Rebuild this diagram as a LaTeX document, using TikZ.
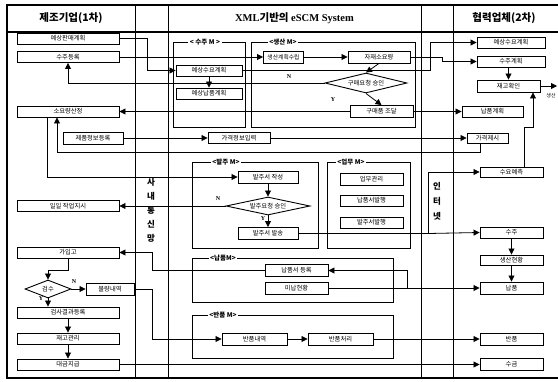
\documentclass[tikz,border=0pt]{standalone}
\usepackage{fontspec}
\setmainfont{Liberation Serif}
\newfontfamily\kr{Noto Sans CJK KR}
\usetikzlibrary{arrows.meta,shapes.geometric}
\tikzset{
 bx/.style={draw, line width=0.9pt, fill=white, inner sep=0pt, font=\kr\fontsize{6.3}{7}\selectfont},
 dia/.style={diamond, draw, line width=0.9pt, fill=white, inner sep=0pt, aspect=4, font=\kr\fontsize{6.3}{7}\selectfont},
 arr/.style={line width=0.8pt, -{Triangle[length=6pt,width=6pt]}},
 grp/.style={line width=0.8pt},
 gtitle/.style={fill=white, inner sep=1.5pt, font=\kr\bfseries\fontsize{6.5}{7}\selectfont},
 hdr/.style={font=\bfseries\fontsize{10.5}{12}\selectfont},
 lbl/.style={font=\bfseries\fontsize{6}{7}\selectfont, inner sep=0pt},
 vtxt/.style={align=center, inner sep=0pt},
}
\begin{document}
\begin{tikzpicture}[x=1pt,y=-1pt]
\useasboundingbox (0,0) rectangle (558,381);
% frame
\draw[line width=1.3pt] (558,5) -- (7,5) -- (7,378) -- (558,378);
\draw[line width=1.1pt] (7,32) -- (558,32);
\foreach \x in {135,168,421,453} \draw[line width=1pt] (\x,5) -- (\x,378);
% headers
\node[hdr] (h1) at (71,18.5) {\kr\bfseries 제조기업(1차)};
\node[hdr] (h2) at (294.5,18.5) {XML{\kr\bfseries 기반의} eSCM System};
\node[hdr] (h3) at (504,18.5) {\kr\bfseries 협력업체(2차)};
% side texts
\node[vtxt, font=\kr\bfseries\fontsize{8.5}{14}\selectfont] (t1) at (151,210) {사\\내\\통\\신\\망};
\node[vtxt, font=\kr\bfseries\fontsize{8.5}{15}\selectfont] (t2) at (437,201) {인\\터\\넷};
% groups
\draw[grp] (173,42) rectangle (245,127);
\draw[grp] (251,42) rectangle (415,127);
\draw[grp] (192,162) rectangle (318,248);
\draw[grp] (327,162) rectangle (410,248);
\draw[grp] (192,258) rectangle (393,302);
\draw[grp] (192,315) rectangle (393,358);
\node[gtitle] (g1) at (205,42) {< 수주 M >};
\node[gtitle] (g2) at (283,42) {<생산 M>};
\node[gtitle] (g3) at (226,162) {<발주 M>};
\node[gtitle] (g4) at (351,162) {<업무 M>};
\node[gtitle] (g5) at (223,258) {<납품M>};
\node[gtitle] (g6) at (223,315) {<반품 M>};
% left column
\node[bx, minimum width=102pt, minimum height=11pt] (L1) at (68,38.5) {예상판매계획};
\node[bx, minimum width=102pt, minimum height=11pt] (L2) at (68,57) {수주등록};
\node[bx, minimum width=102pt, minimum height=11pt] (L3) at (68,111.5) {소요량산정};
\node[bx, minimum width=60pt, minimum height=12pt] (L4) at (93,138) {제품정보등록};
\node[bx, minimum width=102pt, minimum height=11pt] (L5) at (68,206) {일일 작업지시};
\node[bx, minimum width=102pt, minimum height=11pt] (L6) at (68,252.5) {가입고};
\node[dia, minimum width=46pt, minimum height=18pt] (Ld) at (48,289) {검수};
\node[bx, minimum width=48pt, minimum height=12pt] (L7) at (110,289) {불량내역};
\node[bx, minimum width=102pt, minimum height=11pt] (L8) at (68,312.5) {검사결과등록};
\node[bx, minimum width=102pt, minimum height=11pt] (L9) at (68,338.5) {재고관리};
\node[bx, minimum width=102pt, minimum height=11pt] (L10) at (68,364.5) {대금지급};
% middle
\node[bx, minimum width=66pt, minimum height=11pt] (M1) at (209,70.5) {예상수요계획};
\node[bx, minimum width=66pt, minimum height=11pt] (M2) at (209,93.5) {예상납품계획};
\node[bx, minimum width=40pt, minimum height=12pt, font=\kr\fontsize{5.8}{7}\selectfont] (M3) at (283.5,57) {생산계획수립};
\node[bx, minimum width=62pt, minimum height=12pt] (M4) at (379,57) {자재소요량};
\node[dia, minimum width=82pt, minimum height=20pt] (M5) at (366,83) {구매요청 승인};
\node[bx, minimum width=63pt, minimum height=12pt] (M6) at (381.5,111.5) {구매품 조달};
\node[bx, minimum width=62pt, minimum height=11pt] (M7) at (239,138) {가격정보입력};
\node[bx, minimum width=60pt, minimum height=12pt] (M8) at (268,177) {발주서 작성};
\node[dia, minimum width=84pt, minimum height=18pt] (M9) at (268,206) {발주요청 승인};
\node[bx, minimum width=60pt, minimum height=12pt] (M10) at (268,233.5) {발주서 발송};
\node[bx, minimum width=63pt, minimum height=12pt] (M11) at (371.5,179.5) {업무관리};
\node[bx, minimum width=63pt, minimum height=11pt] (M12) at (371.5,200.5) {납품서발행};
\node[bx, minimum width=63pt, minimum height=11pt] (M13) at (371.5,222.5) {발주서발행};
\node[bx, minimum width=63pt, minimum height=12pt] (M14) at (296.5,270.5) {납품서 등록};
\node[bx, minimum width=63pt, minimum height=12pt] (M15) at (296.5,288) {미납현황};
\node[bx, minimum width=65pt, minimum height=12pt] (M16) at (254.5,339) {반품내역};
\node[bx, minimum width=65pt, minimum height=12pt] (M17) at (340.5,339) {반품처리};
% right
\node[bx, minimum width=68pt, minimum height=11pt] (R1) at (511,42.5) {예상수요계획};
\node[bx, minimum width=68pt, minimum height=11pt] (R2) at (511,61.5) {수주계획};
\node[bx, minimum width=63pt, minimum height=12pt] (R3) at (508.5,86) {재고확인};
\node[bx, minimum width=61pt, minimum height=11pt] (R4) at (492.5,111.5) {납품계획};
\node[bx, minimum width=41pt, minimum height=10pt] (R5) at (487.5,138) {가격제시};
\node[bx, minimum width=63pt, minimum height=10pt] (R6) at (511.5,172) {수요예측};
\node[bx, minimum width=63pt, minimum height=11pt] (R7) at (511.5,232.5) {수주};
\node[bx, minimum width=63pt, minimum height=10pt] (R8) at (511.5,260) {생산현황};
\node[bx, minimum width=63pt, minimum height=12pt] (R9) at (511.5,288) {납품};
\node[bx, minimum width=63pt, minimum height=12pt] (R10) at (511.5,339) {반품};
\node[bx, minimum width=63pt, minimum height=12pt] (R11) at (511.5,364.5) {수금};
\node[font=\kr\fontsize{5}{6}\selectfont, inner sep=0pt] (t3) at (551,96) {생산};
% labels
\node[lbl] (n1) at (289,77) {N};
\node[lbl] (y1) at (333,100) {Y};
\node[lbl] (n2) at (218,199) {N};
\node[lbl] (y2) at (263,219) {Y};
\node[lbl] (n3) at (74,282) {N};
\node[lbl] (y3) at (41,299) {Y};
% coordinates
\coordinate (k0) at (147,38.5);
\coordinate (ka) at (430,70.5);
\coordinate (kb) at (442,57);
\coordinate (e1) at (557,86);
\coordinate (k1) at (480,152);
\coordinate (k2) at (57,152);
\coordinate (k3) at (47,177);
\coordinate (k4) at (428,233.5);
\coordinate (k5) at (524,127);
\coordinate (k6) at (533,127);
\coordinate (k7) at (407,288);
\coordinate (k8) at (152,270.5);
\coordinate (k9) at (48,270);
\coordinate (k10) at (152,289);
% connectors
\draw[arr] (L1.east) -- (k0) |- (M1.west);
\draw[arr] (L2.east) -- (M3.west);
\draw[arr] (M3.east) -- (M4.west);
\draw[arr] (M4.south) -- (M5.north);
\draw[arr] (M5.south) -- (M6.north);
\draw[arr] (M5.west) -| (L2.south);
\draw[arr] (M1.south) -- (M2.north);
\draw[arr] (M1.east) -- (ka) |- (R1.west);
\draw[arr] (M4.east) -- (kb) |- (R2.west);
\draw[arr] (R2.south -| R3.north) -- (R3.north);
\draw[arr] (R3.east) -- (e1);
\draw[arr] (M6.east) -- (R4.west);
\draw[arr] (M6.west) -- (L3.east);
\draw[arr] (R5.south -| k1) -- (k1) -- (k2) -- (k2 |- L3.south);
\draw[arr] (L4.east) -- (M7.west);
\draw[arr] (M7.east) -- (R5.west);
\draw[arr] (L3.south -| k3) -- (k3) -- (M8.west);
\draw[arr] (M8.south) -- (M9.north);
\draw[arr] (M9.south) -- (M10.north);
\draw[arr] (M9.west) -- (L5.east);
\draw[arr] (M10.east) -- (k4) -- (R7.west);
\draw[arr] (k4) |- (R6.west);
\draw[arr] (R6.north -| k5) -- (k5) -- (k6) -- (k6 |- R3.south);
\draw[arr] (R7.south) -- (R8.north);
\draw[arr] (R8.south) -- (R9.north);
\draw[arr] (M15.east) -- (R9.west);
\draw[arr] (k7) |- (M14.east);
\draw[arr] (M14.west) -- (k8) |- (L6.east);
\draw[arr] (L6.south) |- (k9) -- (Ld.north);
\draw[arr] (Ld.east) -- (L7.west);
\draw[arr] (Ld.south) -- (Ld.south |- L8.north);
\draw[arr] (L8.south) -- (L9.north);
\draw[arr] (L9.south) -- (L10.north);
\draw[arr] (L7.east) -- (k10) |- (M16.west);
\draw[arr] (M16.east) -- (M17.west);
\draw[arr] (M17.east) -- (R10.west);
\draw[arr] (L10.east) -- (R11.west);
\end{tikzpicture}
\end{document}
